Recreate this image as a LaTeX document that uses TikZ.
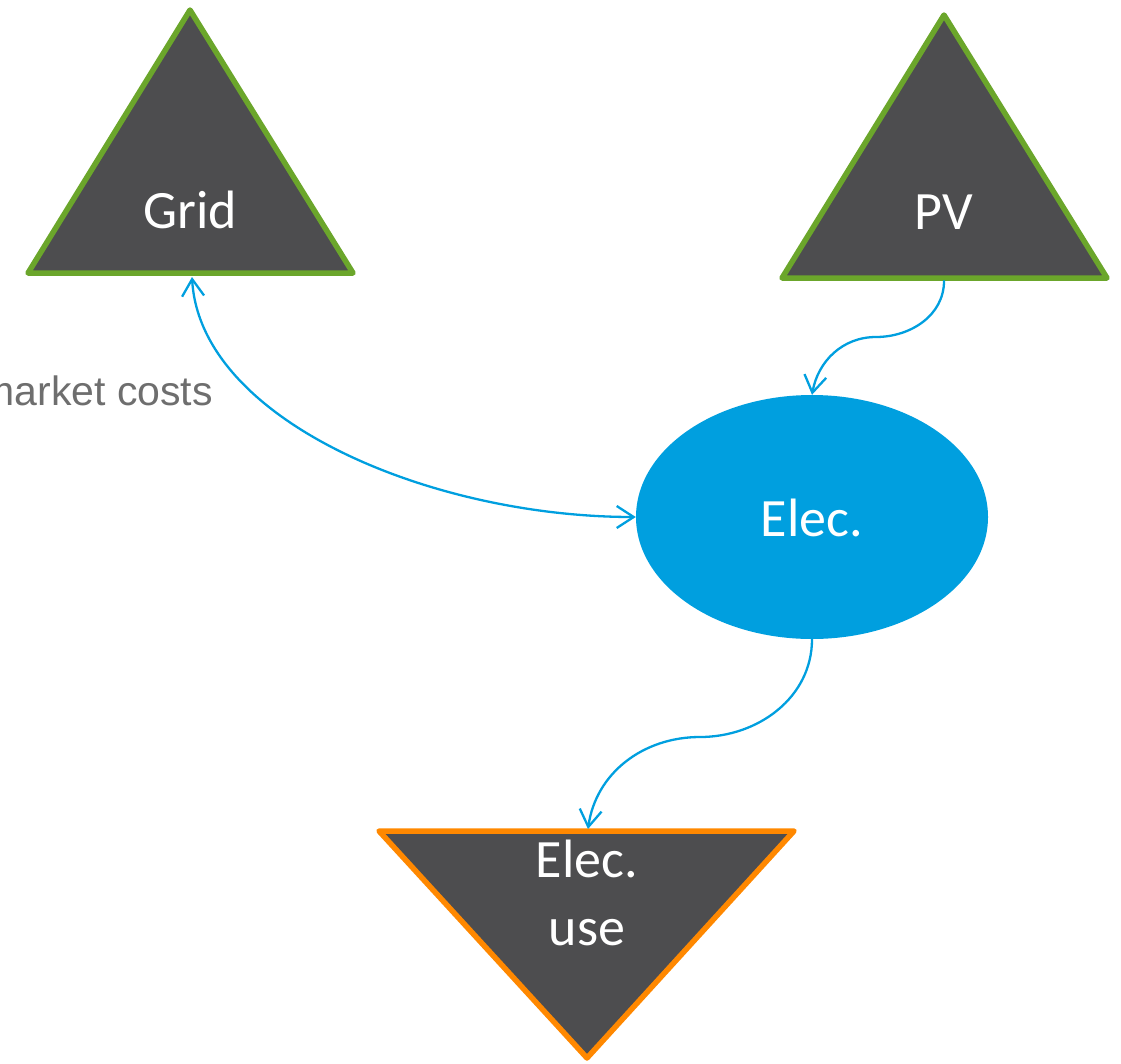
\documentclass[tikz,border=0pt]{standalone}
\usepackage{fontspec}
\setmainfont{Carlito}
\newfontfamily\arialfont{Liberation Sans}
\usetikzlibrary{arrows.meta,shapes.geometric}
\definecolor{tgreen}{RGB}{107,166,43}
\definecolor{torange}{RGB}{255,136,0}
\definecolor{tdark}{RGB}{77,77,79}
\definecolor{eblue}{RGB}{0,159,223}
\definecolor{lgray}{RGB}{110,110,110}
\tikzset{
  srcbox/.style={draw=tgreen, fill=tdark, line width=5.5pt, line join=round},
  sinkbox/.style={draw=torange, fill=tdark, line width=5.5pt, line join=round},
  lbl/.style={text=white, inner sep=0pt, align=center, font=\fontsize{54}{68}\selectfont},
  conn/.style={draw=eblue, line width=2.3pt, line cap=round,
    arrows={-{Straight Barb[length=17pt,width=22pt,line width=2.3pt]}}},
  bothconn/.style={conn, arrows={{Straight Barb[length=17pt,width=22pt,line width=2.3pt]}-{Straight Barb[length=17pt,width=22pt,line width=2.3pt]}}}
}
\begin{document}
\begin{tikzpicture}[x=1pt,y=-1pt]
\useasboundingbox (0,0) rectangle (1121,1063);
% Grid
\coordinate (gridtop) at (190,10);
\coordinate (gridl) at (28,273);
\coordinate (gridr) at (353,273);
\coordinate (gridb) at (192,277);
\path[srcbox] (gridtop) -- (gridl) -- (gridr) -- cycle;
\node[lbl] (grid) at (190,210) {Grid};
% PV
\coordinate (pvtop) at (944,15);
\coordinate (pvl) at (782,278);
\coordinate (pvr) at (1107,278);
\coordinate (pvb) at (944,281);
\path[srcbox] (pvtop) -- (pvl) -- (pvr) -- cycle;
\node[lbl] (pv) at (944,212) {PV};
% Elec
\node[ellipse, fill=eblue, minimum width=352pt, minimum height=244pt, inner sep=0pt] (elec) at (812,517) {};
\node[lbl] (eleclbl) at (812,518) {Elec.};
% Elec use
\coordinate (usel) at (379,831);
\coordinate (user) at (794,831);
\coordinate (usebot) at (587,1058);
\coordinate (usetop) at (588,829);
\path[sinkbox] (usel) -- (user) -- (usebot) -- cycle;
\node[lbl, anchor=base] (uselbl) at (587,945) {Elec.\\use};
% label
\node[anchor=base east, inner sep=0pt, text=lgray, font=\arialfont\fontsize{41}{48}\selectfont] (mc) at (213,405) {market costs};
% waypoints
\coordinate (pvmid) at (876,337);
\coordinate (usemid) at (700,737);
% connectors
\draw[bothconn] (gridb) .. controls (200,420) and (430,517) .. (elec.west);
\draw[conn] (pvb) to[out=-90,in=0] (pvmid) to[out=180,in=80] (elec.north);
\draw[conn] (elec.south) to[out=-90,in=0] (usemid) to[out=180,in=82] (usetop);
\end{tikzpicture}
\end{document}
